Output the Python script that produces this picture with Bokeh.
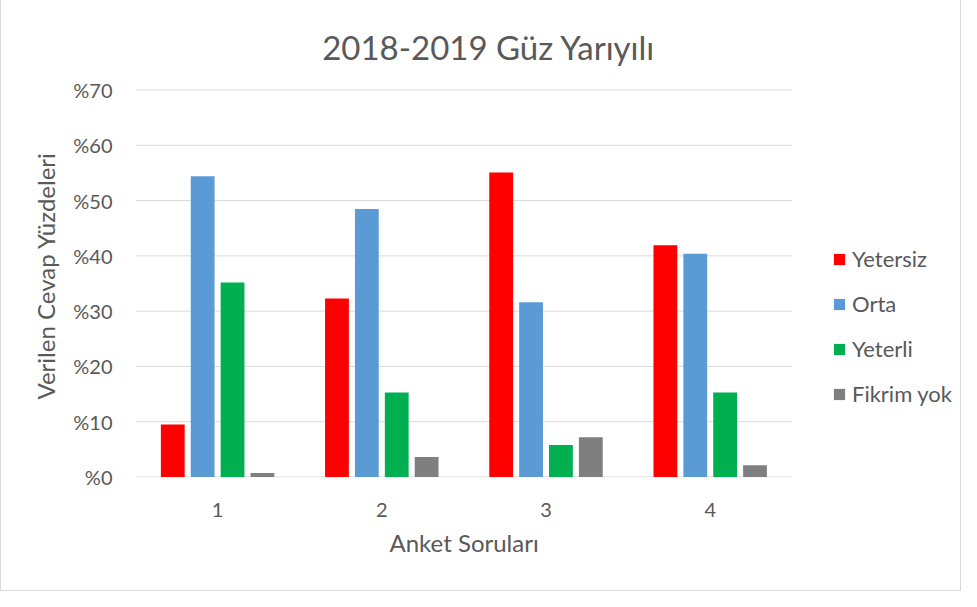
from bokeh.plotting import figure
from bokeh.models import Range1d, FixedTicker, Legend, LegendItem, Title, Label, ColumnDataSource
from bokeh.transform import dodge
from bokeh.embed import file_html
from bokeh.resources import INLINE

# ---- data ----
title_text = "2018-2019 Güz Yarıyılı"
x_title = "Anket Soruları"
y_title = "Verilen Cevap Yüzdeleri"
questions = ["1", "2", "3", "4"]
series_names = ["Yetersiz", "Orta", "Yeterli", "Fikrim yok"]
yetersiz = [9.5, 32.3, 55.1, 41.9]
orta = [54.4, 48.5, 31.6, 40.4]
yeterli = [35.2, 15.3, 5.8, 15.3]
fikrim_yok = [0.7, 3.6, 7.2, 2.1]
y_ticks = [0, 10, 20, 30, 40, 50, 60, 70]
y_tick_labels = ["%0", "%10", "%20", "%30", "%40", "%50", "%60", "%70"]
colors = ["#FF0000", "#5B9BD5", "#00B050", "#7F7F7F"]

FONT = "Lato"
TXT = "#595959"
GRID = "#D9D9D9"

xpos = list(range(1, len(questions) + 1))
source = ColumnDataSource(dict(x=xpos, q=questions, yetersiz=yetersiz, orta=orta,
                               yeterli=yeterli, fikrim_yok=fikrim_yok))

# frame extends right (legend slot) and up (title area); ticks only cover 0..70
p = figure(width=961, height=591, output_backend="svg", toolbar_location=None,
           title=None,
           x_range=Range1d(0.5, len(questions) + 1.5),
           y_range=Range1d(-0.1, 86.2),
           min_border_left=134, min_border_right=6,
           min_border_top=0, min_border_bottom=114)

xa = p.below[0]
ya = p.left[0]

# horizontal gridlines only across the category area
p.segment(x0=[xpos[0] - 0.5] * len(y_ticks), x1=[xpos[-1] + 0.5] * len(y_ticks),
          y0=y_ticks, y1=y_ticks, line_color=GRID, line_width=1)

keys = ["yetersiz", "orta", "yeterli", "fikrim_yok"]
offsets = [-0.273, -0.091, 0.091, 0.273]
renderers = []
for k, off, c in zip(keys, offsets, colors):
    r = p.vbar(x=dodge("x", off), top=k, bottom=0, width=0.145,
               source=source, fill_color=c, line_color=None)
    renderers.append(r)

# chart title inside the (extended) frame
p.add_layout(Label(x=2.652, y=77.87, text=title_text, text_align="center",
                   text_baseline="alphabetic", text_font=FONT,
                   text_font_size="33px", text_color=TXT))

# y axis
ya.ticker = FixedTicker(ticks=y_ticks)
ya.major_label_overrides = {t: l for t, l in zip(y_ticks, y_tick_labels)}
ya.axis_line_color = None
ya.major_tick_line_color = None
ya.minor_tick_line_color = None
ya.major_tick_out = 0
ya.major_tick_in = 0
ya.major_label_standoff = 23
ya.major_label_text_font = FONT
ya.major_label_text_font_size = "20px"
ya.major_label_text_color = TXT

yt = Title(text=y_title, align="left", offset=78, standoff=22, vertical_align="bottom",
           text_font=FONT, text_font_size="24px", text_font_style="normal", text_color=TXT)
p.add_layout(yt, "left")

# x axis
xa.ticker = FixedTicker(ticks=xpos)
xa.major_label_overrides = {x: q for x, q in zip(xpos, questions)}
xa.axis_line_color = None
xa.major_tick_line_color = None
xa.minor_tick_line_color = None
xa.major_tick_out = 0
xa.major_tick_in = 0
xa.major_label_standoff = 25
xa.major_label_text_font = FONT
xa.major_label_text_font_size = "20px"
xa.major_label_text_color = TXT

xt = Title(text=x_title, align="left", offset=254, standoff=16, vertical_align="top",
           text_font=FONT, text_font_size="24px", text_font_style="normal", text_color=TXT)
p.add_layout(xt, "below")

p.xgrid.grid_line_color = None
p.ygrid.grid_line_color = None
p.outline_line_color = None

legend = Legend(items=[LegendItem(label=n, renderers=[r]) for n, r in zip(series_names, renderers)],
                location=(697, 70), orientation="vertical",
                padding=0, margin=0, border_line_color=None, background_fill_alpha=0,
                glyph_width=14, glyph_height=14, label_standoff=6,
                label_height=27, spacing=18,
                label_text_font=FONT, label_text_font_size="22px", label_text_color=TXT)
p.add_layout(legend, "center")

p.styles = {"border-left": "1px solid #D9D9D9", "border-right": "1px solid #D9D9D9",
            "border-bottom": "1px solid #D9D9D9"}

open("out.html", "w").write(file_html(p, INLINE))
